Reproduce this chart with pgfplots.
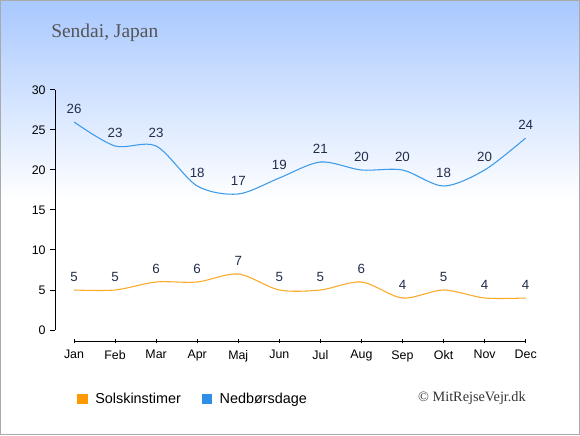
\documentclass[border=0pt]{standalone}
\usepackage{pgfplots}
\pgfplotsset{compat=1.18}
\usepackage{fontspec}
\setmainfont{Liberation Sans}
\newfontfamily\seriffont{Liberation Serif}
\definecolor{bgtop}{RGB}{168,200,255}
\definecolor{sunline}{RGB}{250,170,40}
\definecolor{rainline}{RGB}{60,155,235}
\definecolor{sunleg}{RGB}{255,153,0}
\definecolor{rainleg}{RGB}{47,142,230}
\definecolor{lab}{RGB}{35,45,75}
\definecolor{framec}{RGB}{170,170,170}
\definecolor{titlec}{RGB}{85,85,85}
\begin{document}
\begin{tikzpicture}[x=0.75pt,y=0.75pt]
\fill[white] (0,0) rectangle (580,435);
\shade[top color=bgtop,bottom color=white] (0,235) rectangle (580,435);
\draw[framec,line width=0.75pt] (0.5,0.5) rectangle (579.5,434.5);
\node[anchor=base west,inner sep=0pt,font=\seriffont\fontsize{14.6}{17}\selectfont,text=titlec] at (51,397) {Sendai, Japan};
\node[anchor=base east,inner sep=0pt,font=\seriffont\fontsize{10.7}{12}\selectfont,text=black!80] at (526,33.3) {© MitRejseVejr.dk};
\begin{axis}[
  at={(41.25pt,70.5pt)}, anchor=south west,
  scale only axis, width=353pt, height=188.25pt,
  xmin=-0.463, xmax=11, ymin=-1.375, ymax=30,
  clip=false,
  axis line style={draw=none},
  xtick={0,...,11},
  xticklabels={Jan,Feb,Mar,Apr,Maj,Jun,Jul,Aug,Sep,Okt,Nov,Dec},
  ytick={0,5,...,30},
  xtick pos=bottom, ytick pos=left,
  tick align=outside,
  major tick length=3.5pt,
  tick style={black,line width=0.75pt},
  x tick style={yshift=1.75pt},
  tick label style={font=\fontsize{9.3}{11}\selectfont,text=black},
  /pgf/number format/assume math mode=true,
  nodes near coords,
  every node near coord/.append style={font=\fontsize{10}{12}\selectfont,text=lab,yshift=2.5pt},
  legend columns=2,
  legend style={draw=none,fill=none,at={(0.0467,-0.231)},anchor=west,inner sep=0pt,
    font=\fontsize{10.8}{13}\selectfont,cells={anchor=west}},
]
\addplot[sunline,line width=0.8pt,smooth,
  legend image code/.code={\fill[sunleg] (0pt,-3.5pt) rectangle (7pt,3.5pt); \path (10.75pt,0pt);}]
  coordinates {(0,5) (1,5) (2,6) (3,6) (4,7) (5,5) (6,5) (7,6) (8,4) (9,5) (10,4) (11,4)};
\addlegendentry{Solskinstimer}
\addplot[rainline,line width=0.8pt,smooth,
  legend image code/.code={\path (0pt,0pt); \fill[rainleg] (13.5pt,-3.5pt) rectangle (20.5pt,3.5pt); \path (24.25pt,0pt);}]
  coordinates {(0,26) (1,23) (2,23) (3,18) (4,17) (5,19) (6,21) (7,20) (8,20) (9,18) (10,20) (11,24)};
\addlegendentry{Nedbørsdage}
\draw[black,line width=0.75pt] (axis cs:-0.463,0) -- (axis cs:-0.463,30);
\draw[black,line width=0.75pt] (axis cs:0,-1.375) -- (axis cs:11,-1.375);
\end{axis}
\end{tikzpicture}
\end{document}
